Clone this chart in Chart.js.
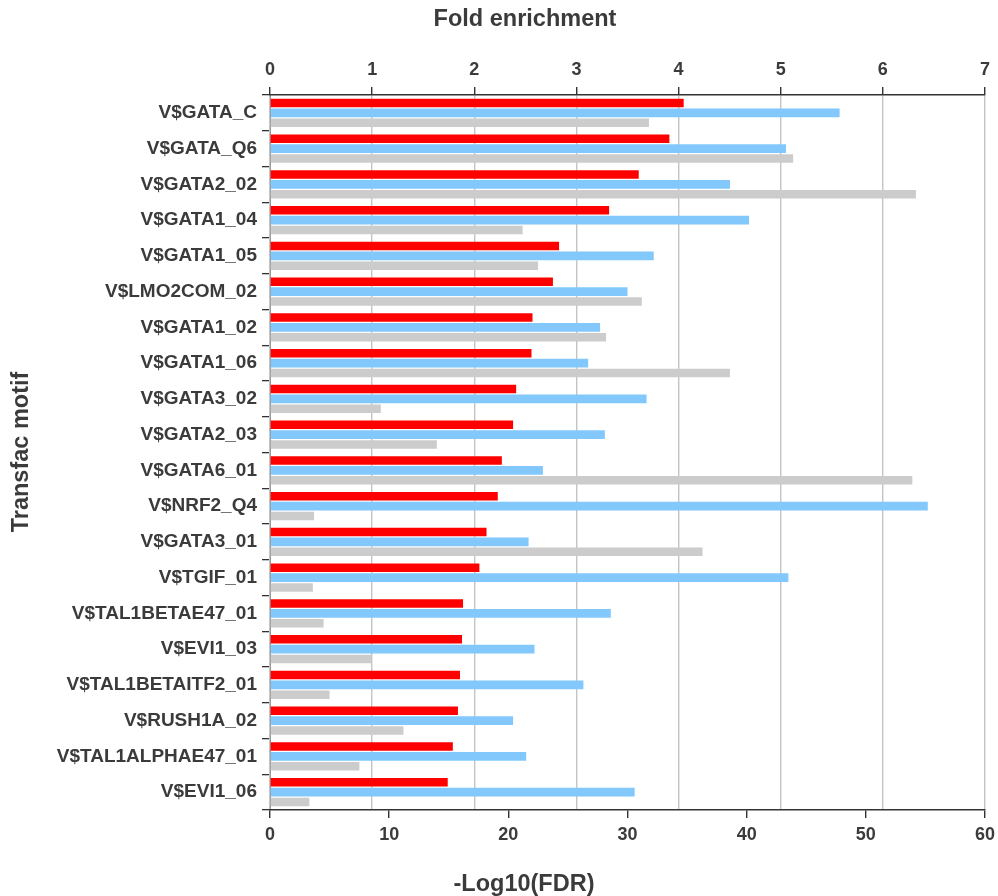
<!DOCTYPE html>
<html>
<head>
<meta charset="utf-8">
<title>Transfac motif enrichment</title>
<script src="https://cdn.jsdelivr.net/npm/chart.js@4/dist/chart.umd.min.js"></script>
<style>
  html, body { margin: 0; padding: 0; background: #ffffff; }
  #wrap { width: 998px; height: 896px; position: relative; }
</style>
</head>
<body>
<div id="wrap"><canvas id="chart" width="998" height="896"></canvas></div>
<script>
// Motifs, top to bottom
const motifs = [
  'V$GATA_C', 'V$GATA_Q6', 'V$GATA2_02', 'V$GATA1_04', 'V$GATA1_05',
  'V$LMO2COM_02', 'V$GATA1_02', 'V$GATA1_06', 'V$GATA3_02', 'V$GATA2_03',
  'V$GATA6_01', 'V$NRF2_Q4', 'V$GATA3_01', 'V$TGIF_01', 'V$TAL1BETAE47_01',
  'V$EVI1_03', 'V$TAL1BETAITF2_01', 'V$RUSH1A_02', 'V$TAL1ALPHAE47_01', 'V$EVI1_06'
];

// Fold enrichment (top axis)
const foldEnrichment = [
  4.05, 3.91, 3.61, 3.32, 2.83, 2.77, 2.57, 2.56, 2.41, 2.38,
  2.27, 2.23, 2.12, 2.05, 1.89, 1.88, 1.86, 1.84, 1.79, 1.74
];

// -Log10(FDR) values (bottom axis)
const log10FdrBlue = [
  47.8, 43.3, 38.6, 40.2, 32.2, 30.0, 27.7, 26.7, 31.6, 28.1,
  22.9, 55.2, 21.7, 43.5, 28.6, 22.2, 26.3, 20.4, 21.5, 30.6
];
const log10FdrGray = [
  31.8, 43.9, 54.2, 21.2, 22.5, 31.2, 28.2, 38.6, 9.3, 14.0,
  53.9, 3.7, 36.3, 3.6, 4.5, 8.5, 5.0, 11.2, 7.5, 3.3
];

// Tick values for the two value axes
const foldTicks = [0, 1, 2, 3, 4, 5, 6, 7];
const fdrTicks = [0, 10, 20, 30, 40, 50, 60];

const TEXT = '#3b3b3b';
const FONT = '"Liberation Sans", Arial, sans-serif';

// Axis titles drawn at fixed spots on the canvas
const axisTitles = {
  id: 'axisTitles',
  afterDraw(chart) {
    const ctx = chart.ctx;
    ctx.save();
    ctx.fillStyle = TEXT;
    ctx.font = 'bold 23.5px ' + FONT;
    ctx.textAlign = 'center';
    ctx.textBaseline = 'middle';
    ctx.fillText('Fold enrichment', 525, 20);
    ctx.fillText('-Log10(FDR)', 524, 885);
    ctx.translate(22, 452);
    ctx.rotate(-Math.PI / 2);
    ctx.fillText('Transfac motif', 0, 0);
    ctx.restore();
  }
};

new Chart(document.getElementById('chart'), {
  type: 'bar',
  data: {
    labels: motifs,
    datasets: [
      {
        label: 'Fold enrichment',
        data: foldEnrichment,
        xAxisID: 'x2',
        backgroundColor: '#ff0000',
        borderWidth: 0
      },
      {
        label: '-Log10(FDR)',
        data: log10FdrBlue,
        xAxisID: 'x',
        backgroundColor: '#82c8fc',
        borderWidth: 0
      },
      {
        label: '-Log10(FDR) ',
        data: log10FdrGray,
        xAxisID: 'x',
        backgroundColor: '#cccccc',
        borderWidth: 0
      }
    ]
  },
  options: {
    indexAxis: 'y',
    responsive: false,
    animation: false,
    categoryPercentage: 0.83,
    barPercentage: 0.88,
    layout: { padding: { left: 0, right: 0, top: 0, bottom: 0 } },
    plugins: {
      legend: { display: false },
      tooltip: { enabled: false },
      title: { display: false }
    },
    scales: {
      y: {
        type: 'category',
        position: 'left',
        offset: true,
        grid: {
          display: true,
          drawOnChartArea: false,
          drawTicks: true,
          tickLength: 8,
          tickColor: '#333333',
          lineWidth: 1.3,
          offset: true
        },
        border: { display: true, color: '#999999', width: 1 },
        ticks: {
          color: TEXT,
          padding: 5,
          font: { family: FONT, size: 19, weight: 'bold' }
        },
        afterFit(scale) { scale.width = 270; }
      },
      x2: {
        type: 'linear',
        position: 'top',
        min: 0,
        max: 7,
        afterBuildTicks(scale) { scale.ticks = foldTicks.map(v => ({ value: v })); },
        grid: {
          display: true,
          drawOnChartArea: true,
          drawTicks: true,
          tickLength: 8,
          color: '#c4c4c4',
          tickColor: '#333333',
          lineWidth: 1.4
        },
        border: { display: true, color: '#333333', width: 1.4 },
        ticks: {
          color: TEXT,
          padding: 6,
          font: { family: FONT, size: 18, weight: 'bold' }
        },
        afterFit(scale) { scale.height = 95; scale.paddingRight = 13; }
      },
      x: {
        type: 'linear',
        position: 'bottom',
        min: 0,
        max: 60,
        afterBuildTicks(scale) { scale.ticks = fdrTicks.map(v => ({ value: v })); },
        grid: {
          display: true,
          drawOnChartArea: false,
          drawTicks: true,
          tickLength: 8,
          tickColor: '#333333',
          lineWidth: 1.4
        },
        border: { display: true, color: '#333333', width: 1.4 },
        ticks: {
          color: TEXT,
          padding: 6,
          font: { family: FONT, size: 18, weight: 'bold' }
        },
        afterFit(scale) { scale.height = 86; scale.paddingRight = 13; }
      }
    }
  },
  plugins: [axisTitles]
});
</script>
</body>
</html>
